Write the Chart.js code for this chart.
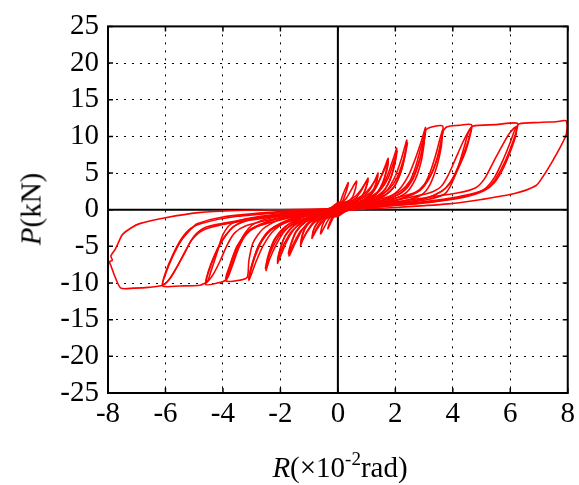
<!DOCTYPE html>
<html>
<head>
<meta charset="utf-8">
<script src="https://cdn.jsdelivr.net/npm/chart.js@4"></script>
<style>
  html, body { margin: 0; padding: 0; background: #fff; }
  #wrap { position: relative; width: 579px; height: 485px; }
  canvas { position: absolute; left: 0; top: 0; }
  .lbl { position: absolute; font-family: "Liberation Serif", serif; font-size: 29px; color: #000; white-space: nowrap; line-height: 1; }
  .lbl sup { font-size: 19px; vertical-align: 0; position: relative; top: -12px; }
  #xt { left: 340px; top: 467px; transform: translate(-50%, -50%); }
  #yt { left: 31px; top: 209px; transform: translate(-50%, -50%) rotate(-90deg); }
</style>
</head>
<body>
<div id="wrap">
  <canvas id="chart" width="579" height="485"></canvas>
  <div class="lbl" id="xt"><i>R</i>(×10<sup>-2</sup>rad)</div>
  <div class="lbl" id="yt"><i>P</i>(kN)</div>
</div>
<script>
/* Ejes: R (x10^-2 rad) y P (kN) */
const X_MIN = -8, X_MAX = 8, X_STEP = 2;
const Y_MIN = -25, Y_MAX = 25, Y_STEP = 5;

/* Ciclos, [R, P] por punto, en orden de ensayo */
const cyc1 = [[0,0],[0.1,1.2],[0.2,2.3],[0.3,3.2],[0.36,3.7],[0.33,3.0],[0.25,2.0],[0.15,1.0],[0.05,0.3],[0,-0.3],[-0.05,-0.5],[-0.15,-1.0],[-0.25,-1.8],[-0.35,-2.6],[-0.3,-1.9],[-0.2,-1.0],[-0.1,-0.2],[0,0.4]];
const cyc2 = [[0,0.6],[0.15,1.0],[0.3,1.6],[0.45,2.6],[0.58,3.5],[0.65,3.9],[0.62,3.0],[0.52,1.8],[0.35,1.0],[0.15,0.2],[0,-0.5],[-0.15,-0.8],[-0.3,-1.2],[-0.45,-2.2],[-0.6,-3.3],[-0.56,-2.4],[-0.45,-1.4],[-0.3,-0.5],[-0.12,0.1],[0,0.7]];
const cyc3 = [[0,0.7],[0.3,0.9],[0.6,1.5],[0.8,2.5],[0.95,3.6],[1.05,4.3],[1.0,3.3],[0.88,2.1],[0.65,1.2],[0.35,0.4],[0,-0.6],[-0.3,-0.9],[-0.55,-1.4],[-0.75,-2.6],[-0.9,-3.9],[-0.85,-2.8],[-0.7,-1.7],[-0.45,-0.7],[-0.2,0.0],[0,0.8]];
const cyc3b = [[0,0.8],[0.3,1.1],[0.6,1.8],[0.82,2.8],[0.97,3.7],[1.04,4.0],[0.98,3.0],[0.85,1.9],[0.62,1.1],[0.3,0.3],[0,-0.7],[-0.3,-1.0],[-0.55,-1.7],[-0.75,-2.8],[-0.88,-3.6],[-0.83,-2.6],[-0.68,-1.6],[-0.42,-0.6],[-0.2,0.1],[0,0.9]];
const cyc4 = [[0,0.9],[0.4,1.0],[0.8,1.5],[1.1,2.7],[1.3,4.1],[1.4,5.0],[1.35,3.8],[1.2,2.4],[0.9,1.3],[0.5,0.4],[0,-0.8],[-0.4,-1.0],[-0.8,-1.5],[-1.05,-2.8],[-1.22,-4.1],[-1.3,-4.9],[-1.24,-3.5],[-1.08,-2.1],[-0.75,-0.9],[-0.35,-0.1],[0,1.0]];
const cyc4b = [[0,1.0],[0.4,1.1],[0.8,1.8],[1.1,2.9],[1.3,4.0],[1.38,4.6],[1.33,3.6],[1.18,2.3],[0.9,1.4],[0.5,0.5],[0,-0.9],[-0.4,-1.1],[-0.8,-1.7],[-1.05,-2.9],[-1.22,-4.0],[-1.28,-4.5],[-1.22,-3.3],[-1.05,-2.0],[-0.72,-1.0],[-0.35,-0.2],[0,0.9]];
const cyc5 = [[0,0.9],[0.5,0.9],[1.0,1.5],[1.3,2.8],[1.5,4.5],[1.65,6.0],[1.75,7.0],[1.7,5.6],[1.55,3.6],[1.3,2.0],[0.9,1.1],[0.4,0.2],[0,-0.8],[-0.5,-0.9],[-0.95,-1.5],[-1.25,-2.8],[-1.45,-4.3],[-1.6,-5.5],[-1.7,-6.3],[-1.63,-4.8],[-1.45,-3.0],[-1.1,-1.6],[-0.6,-0.5],[0,0.8]];
const cyc5b = [[0,0.8],[0.5,1.0],[0.95,1.8],[1.3,3.0],[1.52,4.6],[1.68,6.0],[1.75,6.6],[1.7,5.3],[1.55,3.5],[1.3,2.1],[0.85,1.1],[0.4,0.3],[0,-0.7],[-0.5,-1.0],[-0.95,-1.7],[-1.3,-2.9],[-1.5,-4.3],[-1.65,-5.5],[-1.72,-6.0],[-1.63,-4.6],[-1.45,-2.9],[-1.1,-1.6],[-0.6,-0.6],[0,0.7]];
const cyc6 = [[0,0.7],[0.6,0.8],[1.1,1.4],[1.45,2.6],[1.7,4.4],[1.88,6.4],[2.0,7.8],[2.05,8.4],[2.0,6.8],[1.85,4.5],[1.6,2.6],[1.2,1.4],[0.6,0.4],[0,-0.6],[-0.6,-0.8],[-1.2,-1.5],[-1.55,-2.8],[-1.8,-4.5],[-1.98,-6.2],[-2.1,-7.3],[-2.02,-5.6],[-1.82,-3.5],[-1.4,-1.8],[-0.8,-0.6],[0,0.6]];
const cyc6b = [[0,0.6],[0.6,0.9],[1.1,1.7],[1.5,2.8],[1.75,4.3],[1.92,6.2],[2.03,7.6],[2.06,8.0],[2.0,6.6],[1.85,4.4],[1.62,2.7],[1.2,1.5],[0.6,0.5],[0,-0.5],[-0.6,-0.9],[-1.2,-1.7],[-1.6,-2.9],[-1.85,-4.5],[-2.02,-6.1],[-2.1,-7.0],[-2.02,-5.5],[-1.83,-3.5],[-1.45,-1.9],[-0.8,-0.7],[0,0.5]];
const cyc7 = [[0,0.5],[0.7,0.8],[1.3,1.4],[1.7,2.6],[2.0,4.6],[2.2,6.8],[2.33,8.6],[2.4,9.5],[2.35,7.8],[2.2,5.3],[1.95,3.1],[1.5,1.6],[0.8,0.5],[0,-0.5],[-0.7,-0.8],[-1.4,-1.5],[-1.85,-2.9],[-2.15,-4.8],[-2.38,-6.8],[-2.5,-8.3],[-2.42,-6.5],[-2.2,-4.1],[-1.75,-2.1],[-1.0,-0.6],[0,0.5]];
const cyc7b = [[0,0.5],[0.7,0.9],[1.3,1.7],[1.75,2.7],[2.05,4.3],[2.25,6.4],[2.38,8.4],[2.42,9.1],[2.35,7.6],[2.2,5.2],[1.95,3.1],[1.55,1.8],[0.8,0.6],[0,-0.4],[-0.7,-0.9],[-1.4,-1.7],[-1.9,-2.9],[-2.2,-4.6],[-2.42,-6.6],[-2.52,-8.0],[-2.43,-6.3],[-2.2,-4.0],[-1.8,-2.2],[-1.0,-0.7],[0,0.4]];
const cyc8 = [[0,0.4],[0.9,0.8],[1.6,1.4],[2.1,2.6],[2.45,4.6],[2.7,7.0],[2.9,9.3],[3.0,10.6],[3.05,11.2],[3.0,9.4],[2.85,6.8],[2.6,4.2],[2.2,2.3],[1.5,1.1],[0.7,0.3],[0,-0.4],[-0.9,-0.7],[-1.7,-1.5],[-2.25,-2.9],[-2.6,-4.9],[-2.85,-7.1],[-3.0,-8.7],[-3.1,-9.6],[-3.0,-7.6],[-2.75,-4.9],[-2.3,-2.6],[-1.5,-1.1],[-0.7,-0.3],[0,0.4]];
const cyc8b = [[0,0.4],[0.9,0.9],[1.7,1.7],[2.2,2.6],[2.5,3.9],[2.7,5.8],[2.87,8.2],[3.0,10.0],[3.05,10.7],[2.98,9.0],[2.83,6.6],[2.6,4.1],[2.25,2.4],[1.6,1.3],[0.8,0.4],[0,-0.3],[-0.9,-0.7],[-1.7,-1.6],[-2.3,-2.7],[-2.65,-4.3],[-2.9,-6.6],[-3.05,-8.6],[-3.1,-9.3],[-2.98,-7.4],[-2.75,-4.8],[-2.35,-2.7],[-1.6,-1.2],[-0.8,-0.4],[0,0.3]];
const cyc9 = [[0,0.3],[1.0,0.6],[1.9,1.4],[2.4,2.4],[2.7,4.2],[2.9,6.6],[3.0,9.0],[3.05,10.8],[3.3,11.3],[3.65,11.4],[3.6,9.6],[3.45,7.0],[3.2,4.5],[2.8,2.5],[2.0,1.2],[1.0,0.4],[0,-0.3],[-1.0,-0.5],[-2.0,-1.3],[-2.6,-2.6],[-2.95,-4.5],[-3.1,-7.0],[-3.15,-9.2],[-3.4,-9.6],[-3.9,-9.7],[-3.78,-7.8],[-3.5,-5.0],[-3.0,-2.6],[-2.0,-1.1],[-1.0,-0.3],[0,0.3]];
const cyc9b = [[0,0.3],[1.0,0.8],[2.0,1.6],[2.7,2.4],[3.0,3.4],[3.2,5.0],[3.4,7.4],[3.55,9.6],[3.65,10.9],[3.6,9.2],[3.45,6.8],[3.2,4.4],[2.85,2.6],[2.1,1.4],[1.0,0.4],[0,-0.3],[-1.0,-0.6],[-2.0,-1.4],[-2.8,-2.3],[-3.2,-3.4],[-3.45,-5.2],[-3.65,-7.4],[-3.8,-9.0],[-3.88,-9.5],[-3.75,-7.6],[-3.5,-4.9],[-3.05,-2.7],[-2.1,-1.2],[-1.0,-0.3],[0,0.3]];
const cyc10 = [[0,0.3],[1.2,0.6],[2.3,1.2],[2.9,2.0],[3.2,3.4],[3.45,6.0],[3.6,8.6],[3.65,10.6],[3.8,11.3],[4.2,11.5],[4.65,11.6],[4.62,10.6],[4.45,8.4],[4.2,6.0],[3.95,4.0],[3.65,2.6],[3.1,1.6],[2.0,0.8],[1.0,0.2],[0,-0.2],[-1.2,-0.4],[-2.3,-1.1],[-2.95,-2.0],[-3.3,-3.6],[-3.55,-5.8],[-3.75,-8.2],[-3.9,-9.6],[-4.2,-10.0],[-4.6,-10.2],[-4.5,-8.5],[-4.25,-6.0],[-3.95,-3.8],[-3.6,-2.2],[-3.0,-1.3],[-2.0,-0.6],[-1.0,-0.1],[0,0.2]];
const cyc10b = [[0,0.2],[1.2,0.8],[2.4,1.6],[3.2,2.3],[3.6,3.2],[3.85,4.8],[4.1,7.0],[4.35,9.2],[4.55,10.7],[4.65,11.2],[4.6,10.1],[4.45,8.0],[4.2,5.7],[3.95,3.8],[3.6,2.5],[3.0,1.5],[2.0,0.8],[1.0,0.2],[0,-0.2],[-1.2,-0.6],[-2.4,-1.4],[-3.2,-2.2],[-3.6,-3.2],[-3.85,-4.8],[-4.1,-7.0],[-4.35,-8.9],[-4.55,-9.9],[-4.6,-10.0],[-4.5,-8.3],[-4.25,-5.8],[-3.95,-3.7],[-3.55,-2.1],[-2.8,-1.1],[-1.6,-0.5],[0,0.2]];
const cyc11 = [[0,0.2],[1.5,0.6],[3.0,1.3],[3.7,2.1],[3.95,3.5],[4.2,6.0],[4.4,8.6],[4.55,10.6],[4.7,11.4],[5.5,11.6],[6.25,11.8],[6.2,10.6],[6.0,8.3],[5.75,6.0],[5.45,4.0],[5.15,2.8],[4.5,1.9],[3.5,1.2],[2.0,0.6],[0,-0.1],[-1.5,-0.4],[-3.0,-1.1],[-3.7,-1.9],[-4.0,-3.4],[-4.2,-5.8],[-4.4,-8.2],[-4.55,-9.8],[-4.8,-10.3],[-5.5,-10.4],[-6.1,-10.4],[-6.0,-8.8],[-5.75,-6.4],[-5.45,-4.2],[-5.1,-2.6],[-4.9,-1.9],[-4.0,-1.0],[-2.5,-0.4],[0,0.2]];
const cyc11b = [[0,0.2],[1.5,0.8],[3.0,1.6],[4.2,2.3],[4.8,3.0],[5.1,4.2],[5.4,6.4],[5.7,8.6],[5.95,10.3],[6.2,11.3],[6.2,10.2],[6.0,7.9],[5.75,5.6],[5.45,3.7],[5.1,2.6],[4.4,1.7],[3.2,1.0],[1.5,0.4],[0,-0.1],[-1.5,-0.6],[-3.0,-1.4],[-4.1,-2.1],[-4.7,-2.8],[-5.1,-4.2],[-5.4,-6.4],[-5.7,-8.5],[-5.95,-9.9],[-6.1,-10.2],[-6.0,-8.6],[-5.75,-6.2],[-5.45,-4.0],[-5.1,-2.5],[-4.6,-1.7],[-3.5,-0.9],[-2.0,-0.4],[0,0.1]];
const cyc12 = [[0,0.1],[2.0,0.7],[3.6,1.4],[4.6,2.1],[5.1,2.8],[5.45,4.4],[5.75,6.8],[6.0,9.2],[6.15,10.8],[6.3,11.7],[7.0,11.9],[7.6,12.0],[7.95,12.1],[7.95,10.3],[7.75,8.6],[7.45,6.5],[7.15,4.6],[6.9,3.3],[6.15,2.2],[5.0,1.4],[3.85,0.8],[2.0,0.3],[0,-0.1],[-1.5,-0.5],[-3.0,-1.2],[-3.9,-1.8],[-4.6,-2.4],[-5.0,-3.6],[-5.3,-5.6],[-5.6,-7.8],[-5.85,-9.4],[-6.1,-10.3],[-6.6,-10.6],[-7.1,-10.7],[-7.55,-10.7],[-7.75,-9.2],[-7.9,-7.6],[-7.95,-7.1],[-7.85,-6.9],[-7.9,-6.3],[-7.75,-5.4],[-7.65,-4.6],[-7.5,-3.4],[-7.2,-2.5],[-6.9,-1.9],[-6.0,-1.1],[-4.85,-0.4],[-3.5,-0.1],[-2.0,0.0],[0,0.1]];

const cycles = [cyc1, cyc2, cyc3, cyc3b, cyc4, cyc4b, cyc5, cyc5b, cyc6, cyc6b, cyc7, cyc7b,
  cyc8, cyc8b, cyc9, cyc9b, cyc10, cyc10b, cyc11, cyc11b, cyc12];

const FONT = '"Liberation Serif", "Times New Roman", Times, serif';
Chart.defaults.font.family = FONT;
Chart.defaults.color = "#000";

// marco, ejes en cero y marcas hacia adentro
const frame = {
  id: "frame",
  beforeDatasetsDraw(chart) {
    const { ctx, chartArea: a, scales: { x, y } } = chart;
    const x0 = x.getPixelForValue(0), y0 = y.getPixelForValue(0);
    ctx.save();
    ctx.strokeStyle = "#000";
    ctx.lineWidth = 2;
    ctx.beginPath();
    ctx.moveTo(x0, a.top); ctx.lineTo(x0, a.bottom);
    ctx.moveTo(a.left, y0); ctx.lineTo(a.right, y0);
    ctx.stroke();
    ctx.restore();
  },
  afterDraw(chart) {
    const { ctx, chartArea: a, scales: { x, y } } = chart;
    ctx.save();
    ctx.strokeStyle = "#000";
    ctx.lineWidth = 1.5;
    ctx.beginPath();
    x.ticks.forEach((t) => {
      const px = x.getPixelForValue(t.value);
      ctx.moveTo(px, a.bottom); ctx.lineTo(px, a.bottom - 5);
      ctx.moveTo(px, a.top); ctx.lineTo(px, a.top + 5);
    });
    y.ticks.forEach((t) => {
      const py = y.getPixelForValue(t.value);
      ctx.moveTo(a.left, py); ctx.lineTo(a.left + 5, py);
      ctx.moveTo(a.right, py); ctx.lineTo(a.right - 5, py);
    });
    ctx.stroke();
    ctx.lineWidth = 2;
    ctx.strokeRect(a.left, a.top, a.right - a.left, a.bottom - a.top);
    ctx.restore();
  },
};

const gridOpts = { color: "#000", lineWidth: 1, drawTicks: false };
const borderOpts = { display: false, dash: [2, 6] };

function draw() {
  new Chart(document.getElementById("chart"), {
    type: "scatter",
    data: {
      datasets: cycles.map((c, i) => ({
        label: "ciclo " + (i + 1),
        data: c.map(([r, p]) => ({ x: r, y: p })),
        showLine: true,
        borderColor: "#ff0000",
        borderWidth: 1.6,
        pointRadius: 0,
        tension: 0.25,
        fill: false,
      })),
    },
    options: {
      responsive: false,
      animation: false,
      layout: { padding: { top: 24, right: 9, left: 0, bottom: 42 } },
      plugins: { legend: { display: false }, tooltip: { enabled: false } },
      scales: {
        x: {
          type: "linear", min: X_MIN, max: X_MAX,
          ticks: { stepSize: X_STEP, autoSkip: false, color: "#000", font: { family: FONT, size: 29 }, padding: 4, maxRotation: 0 },
          grid: gridOpts, border: borderOpts,
          afterFit(s) { s.height = 50; },
        },
        y: {
          type: "linear", min: Y_MIN, max: Y_MAX,
          ticks: { stepSize: Y_STEP, autoSkip: false, color: "#000", font: { family: FONT, size: 29 }, padding: 9 },
          grid: gridOpts, border: borderOpts,
          afterFit(s) { s.width = 108; },
        },
      },
    },
    plugins: [frame],
  });
}

document.fonts.load('29px "Liberation Serif"').then(draw, draw);
</script>
</body>
</html>
